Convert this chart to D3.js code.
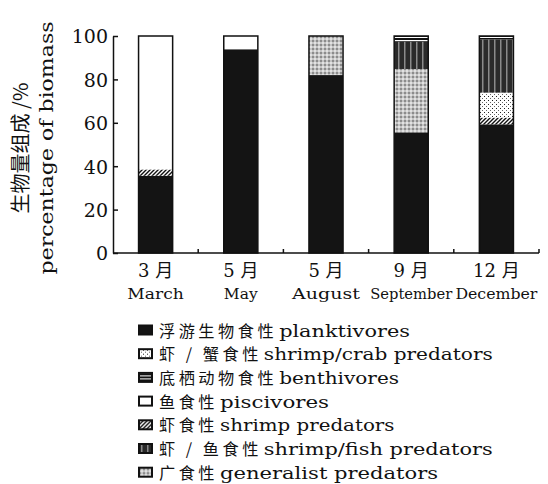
<!DOCTYPE html>
<html>
<head>
<meta charset="utf-8">
<script src="https://cdn.jsdelivr.net/npm/d3@7"></script>
<style>
  html, body { margin: 0; padding: 0; background: #fff; }
  svg { display: block; }
</style>
</head>
<body>
<svg id="chart" width="548" height="484"></svg>
<script>
// Months (Chinese / English)
const monthsCn = ["3 月", "5 月", "5 月", "9 月", "12 月"];
const monthsEn = ["March", "May", "August", "September", "December"];

// Feeding guilds, in stacking order (bottom to top)
const guildKeys = ["plank", "shrimp", "crab", "general", "fish", "benth", "pisc"];

// Percentage of biomass per guild, one value per month
const plank   = [35.6, 93.9, 82.0, 55.6, 59.3];
const shrimp  = [2.9,  0,    0,    0,    3.1];
const crab    = [0,    0,    0,    0,    11.5];
const general = [0,    0,    18.0, 29.2, 0];
const fish    = [0,    0,    0,    12.6, 24.5];
const benth   = [0,    0,    0,    2.6,  1.6];
const pisc    = [61.5, 6.1,  0,    0,    0];

const yTicks = [0, 20, 40, 60, 80, 100];

// Legend order and labels
const legendKeys = ["plank", "crab", "benth", "pisc", "shrimp", "fish", "general"];
const legendCn = ["浮游生物食性", "虾 / 蟹食性", "底栖动物食性", "鱼食性", "虾食性", "虾 / 鱼食性", "广食性"];
const legendEn = ["planktivores", "shrimp/crab predators", "benthivores", "piscivores",
                  "shrimp predators", "shrimp/fish predators", "generalist predators"];

const seriesValues = { plank, shrimp, crab, general, fish, benth, pisc };

const serif = "'DejaVu Serif', serif";
const cjk = "'Noto Sans CJK SC', sans-serif";

const svg = d3.select("#chart");
const margin = { left: 113, right: 9, top: 36, bottom: 231 };
const W = 548, H = 484;
const plotBottom = H - margin.bottom;

// Fill patterns
const defs = svg.append("defs");
function pattern(id, w, h, bg, draw) {
  const p = defs.append("pattern").attr("id", id).attr("patternUnits", "userSpaceOnUse")
    .attr("width", w).attr("height", h);
  p.append("rect").attr("width", w).attr("height", h).attr("fill", bg);
  draw(p);
}
pattern("p-shrimp", 4, 4, "#fff", p => {
  p.append("path").attr("d", "M-1,1 L1,-1 M0,4 L4,0 M3,5 L5,3").attr("stroke", "#111").attr("stroke-width", 1.4);
});
pattern("p-crab", 4, 4, "#fff", p => {
  p.append("rect").attr("x", 0).attr("y", 0).attr("width", 1).attr("height", 1).attr("fill", "#222");
  p.append("rect").attr("x", 2).attr("y", 2).attr("width", 1).attr("height", 1).attr("fill", "#666");
});
pattern("p-general", 4, 4, "#c4c4c4", p => {
  p.append("rect").attr("x", 0).attr("y", 0).attr("width", 2).attr("height", 2).attr("fill", "#8c8c8c");
  p.append("rect").attr("x", 2).attr("y", 2).attr("width", 2).attr("height", 2).attr("fill", "#e2e2e2");
});
pattern("p-fish", 6, 6, "#2a2a2a", p => {
  p.append("rect").attr("x", 2).attr("y", 0).attr("width", 1.5).attr("height", 6).attr("fill", "#8a8a8a");
});
pattern("p-benth", 3, 3, "#111", p => {
  p.append("rect").attr("x", 0).attr("y", 1).attr("width", 3).attr("height", 1).attr("fill", "#fff");
});

const fills = {
  plank: "#141414", shrimp: "url(#p-shrimp)", crab: "url(#p-crab)", general: "url(#p-general)",
  fish: "url(#p-fish)", benth: "url(#p-benth)", pisc: "#fff"
};

// Scales
const x = d3.scaleBand().domain(d3.range(monthsEn.length))
  .range([margin.left, W - margin.right]).paddingInner(0.6).paddingOuter(0.3);
const y = d3.scaleLinear().domain([0, 100]).range([plotBottom, margin.top]);

// Stacked data
const rows = monthsEn.map((m, i) => {
  const r = { i };
  guildKeys.forEach(k => r[k] = seriesValues[k][i]);
  return r;
});
const stacked = d3.stack().keys(guildKeys)(rows);

const gBars = svg.append("g");
stacked.forEach(layer => {
  gBars.selectAll(null).data(layer.filter(d => d[1] - d[0] > 0)).join("rect")
    .attr("x", d => x(d.data.i))
    .attr("width", x.bandwidth())
    .attr("y", d => y(d[1]))
    .attr("height", d => y(d[0]) - y(d[1]))
    .attr("fill", fills[layer.key]);
});
// Bar outlines
gBars.selectAll(null).data(rows).join("rect")
  .attr("x", d => x(d.i)).attr("width", x.bandwidth())
  .attr("y", y(100)).attr("height", y(0) - y(100))
  .attr("fill", "none").attr("stroke", "#111").attr("stroke-width", 1.5);

// Y axis with inward ticks
const yAxis = svg.append("g").attr("transform", `translate(${margin.left},0)`)
  .call(d3.axisLeft(y).tickValues(yTicks).tickSize(-5).tickPadding(5).tickSizeOuter(0));
yAxis.select(".domain").attr("stroke", "#111").attr("stroke-width", 1.5);
yAxis.selectAll(".tick line").attr("stroke", "#111").attr("stroke-width", 1.5);
yAxis.selectAll(".tick text").attr("font-family", serif)
  .attr("font-size", 19).attr("fill", "#111").attr("dy", "0.36em");

// X axis: baseline with small upward ticks between months
const step = x.step();
svg.append("line").attr("x1", margin.left).attr("x2", W - margin.right)
  .attr("y1", plotBottom).attr("y2", plotBottom).attr("stroke", "#111").attr("stroke-width", 1.5);
svg.selectAll(null).data(d3.range(1, monthsEn.length + 1)).join("line")
  .attr("x1", i => margin.left + i * step).attr("x2", i => margin.left + i * step)
  .attr("y1", plotBottom).attr("y2", plotBottom - 4).attr("stroke", "#111").attr("stroke-width", 1.5);

// Month labels
const cnLabels = svg.selectAll(null).data(monthsCn).join("text")
  .attr("x", (d, i) => x(i) + x.bandwidth() / 2).attr("y", 277)
  .attr("text-anchor", "middle").attr("fill", "#111");
cnLabels.append("tspan").attr("font-family", serif).attr("font-size", 18)
  .text(d => d.split(" ")[0] + " ");
cnLabels.append("tspan").attr("font-family", cjk).attr("font-size", 18)
  .text(d => d.split(" ")[1]);
svg.selectAll(null).data(monthsEn).join("text")
  .attr("x", (d, i) => x(i) + x.bandwidth() / 2).attr("y", 299)
  .attr("text-anchor", "middle").attr("font-family", serif)
  .attr("font-size", 15).attr("fill", "#111")
  .attr("textLength", d => Math.min(d.length * 11.3, 82))
  .attr("lengthAdjust", "spacingAndGlyphs")
  .text(d => d);

// Y axis title (two lines)
svg.append("text").attr("transform", "translate(28,148) rotate(-90)")
  .attr("text-anchor", "middle").attr("font-family", cjk)
  .attr("font-size", 20).attr("fill", "#111").text("生物量组成 /%");
svg.append("text").attr("transform", "translate(53,148) rotate(-90)")
  .attr("text-anchor", "middle").attr("font-family", serif)
  .attr("font-size", 18).attr("fill", "#111")
  .attr("textLength", 253).attr("lengthAdjust", "spacingAndGlyphs")
  .text("percentage of biomass");

// Legend: swatch, Chinese name, then English name placed after it
const legend = svg.append("g");
const rowsL = legend.selectAll(null).data(legendKeys).join("g")
  .attr("transform", (d, i) => `translate(139,${330 + i * 23.7})`);
rowsL.append("rect").attr("x", 0).attr("y", -4.5).attr("width", 13).attr("height", 9)
  .attr("fill", d => fills[d]).attr("stroke", "#111").attr("stroke-width", 2);
rowsL.each(function(d, i) {
  const g = d3.select(this);
  const cn = g.append("text").attr("x", 20).attr("y", 6.5).attr("fill", "#111")
    .attr("font-family", cjk).attr("font-size", 16.2).attr("letter-spacing", 3.5)
    .text(legendCn[i]);
  const cnWidth = cn.node().getComputedTextLength();
  g.append("text").attr("x", 20 + cnWidth + 2).attr("y", 6.5).attr("fill", "#111")
    .attr("font-family", serif).attr("font-size", 16)
    .attr("textLength", legendEn[i].length * 10.9)
    .attr("lengthAdjust", "spacingAndGlyphs")
    .text(legendEn[i]);
});
</script>
</body>
</html>
